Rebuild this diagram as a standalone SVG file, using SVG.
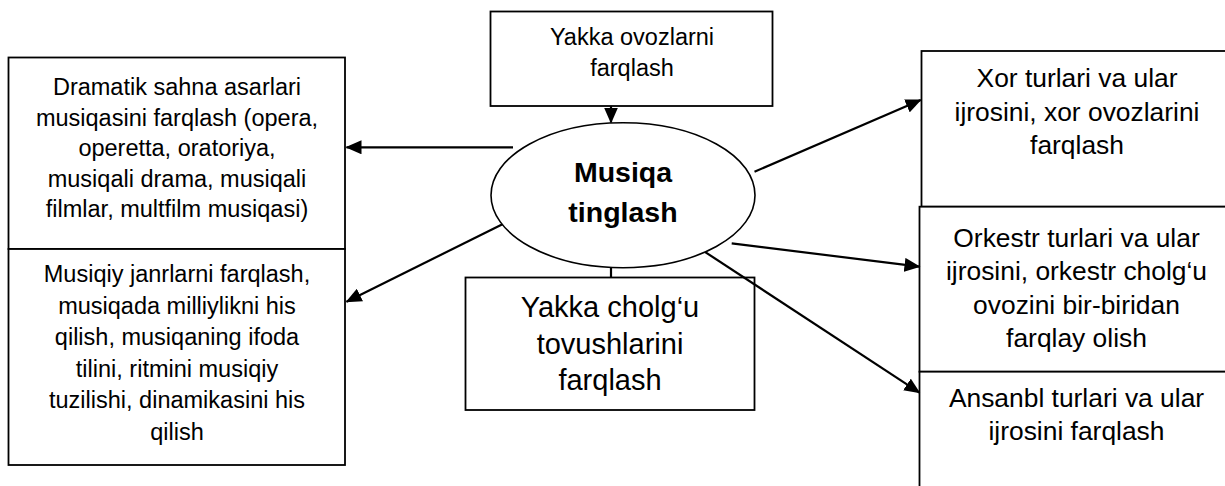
<svg xmlns="http://www.w3.org/2000/svg" width="1225" height="486" viewBox="0 0 1225 486">
<defs>
<style>
.box{fill:#fff;stroke:#000;stroke-width:1.8}
.ell{fill:#fff;stroke:#000;stroke-width:1.6}
.con{fill:none;stroke:#000;stroke-width:2.2}
text{font-family:"Liberation Sans",Arial,sans-serif;fill:#000;text-anchor:middle}
.t235{font-size:23.5px}
.t27{font-size:26.4px}
.t29{font-size:29px}
.tb{font-size:28.5px;font-weight:bold}
</style>
<marker id="arr" markerUnits="userSpaceOnUse" markerWidth="16" markerHeight="14" viewBox="0 0 16 14" refX="15" refY="7" orient="auto">
<path d="M0,0 L16,7 L0,14 Z" fill="#000"/>
</marker>
</defs>

<g id="node-dramatik">
<rect class="box" x="8.5" y="57.5" width="336.5" height="191.5"/>
<text class="t235"><tspan x="177" y="95">Dramatik sahna asarlari</tspan><tspan x="177" y="125.5">musiqasini farqlash (opera,</tspan><tspan x="177" y="156">operetta, oratoriya,</tspan><tspan x="177" y="186.5">musiqali drama, musiqali</tspan><tspan x="177" y="217">filmlar, multfilm musiqasi)</tspan></text>
</g>

<g id="node-janr">
<rect class="box" x="8.5" y="249" width="336.5" height="216"/>
<text class="t235"><tspan x="177" y="282">Musiqiy janrlarni farqlash,</tspan><tspan x="177" y="313.5">musiqada milliylikni his</tspan><tspan x="177" y="345">qilish, musiqaning ifoda</tspan><tspan x="177" y="376.5">tilini, ritmini musiqiy</tspan><tspan x="177" y="408">tuzilishi, dinamikasini his</tspan><tspan x="177" y="439.5">qilish</tspan></text>
</g>

<g id="node-ovoz">
<rect class="box" x="490.5" y="11.5" width="282" height="94.5"/>
<text class="t235"><tspan x="632" y="45">Yakka ovozlarni</tspan><tspan x="632" y="76">farqlash</tspan></text>
</g>

<g id="node-cholgu">
<rect class="box" x="465.5" y="277.5" width="289" height="132.5"/>
<text class="t29"><tspan x="610" y="317">Yakka cholg‘u</tspan><tspan x="610" y="354">tovushlarini</tspan><tspan x="610" y="390">farqlash</tspan></text>
</g>

<g id="node-xor">
<rect class="box" x="921.5" y="51" width="310" height="155.7"/>
<text class="t27"><tspan x="1077" y="87">Xor turlari va ular</tspan><tspan x="1077" y="121">ijrosini, xor ovozlarini</tspan><tspan x="1077" y="154">farqlash</tspan></text>
</g>

<g id="node-orkestr">
<rect class="box" x="919.5" y="206.7" width="312" height="165"/>
<text class="t27"><tspan x="1076.5" y="247">Orkestr turlari va ular</tspan><tspan x="1076.5" y="280">ijrosini, orkestr cholg‘u</tspan><tspan x="1076.5" y="313.5">ovozini bir-biridan</tspan><tspan x="1076.5" y="347">farqlay olish</tspan></text>
</g>

<g id="node-ansanbl">
<rect class="box" x="919.5" y="371.7" width="312" height="140"/>
<text class="t27"><tspan x="1076.5" y="407">Ansanbl turlari va ular</tspan><tspan x="1076.5" y="440">ijrosini farqlash</tspan></text>
</g>

<g id="connectors">
<line class="con" x1="611" y1="106" x2="611" y2="122.5" marker-end="url(#arr)"/>
<line class="con" x1="611" y1="267.5" x2="611" y2="277.5"/>
<line class="con" x1="513" y1="147.3" x2="346.5" y2="147.3" marker-end="url(#arr)"/>
<line class="con" x1="513" y1="219" x2="346.5" y2="301.7" marker-end="url(#arr)"/>
<line class="con" x1="754.5" y1="171.7" x2="920.7" y2="100" marker-end="url(#arr)"/>
<line class="con" x1="731.7" y1="243.3" x2="919.5" y2="266.7" marker-end="url(#arr)"/>
<line class="con" x1="682.7" y1="237.3" x2="919.5" y2="392.7" marker-end="url(#arr)"/>
</g>

<g id="node-musiqa">
<ellipse class="ell" cx="623" cy="195.2" rx="132" ry="72.5"/>
<text class="tb"><tspan x="623" y="182">Musiqa</tspan><tspan x="623" y="221.5">tinglash</tspan></text>
</g>
</svg>
